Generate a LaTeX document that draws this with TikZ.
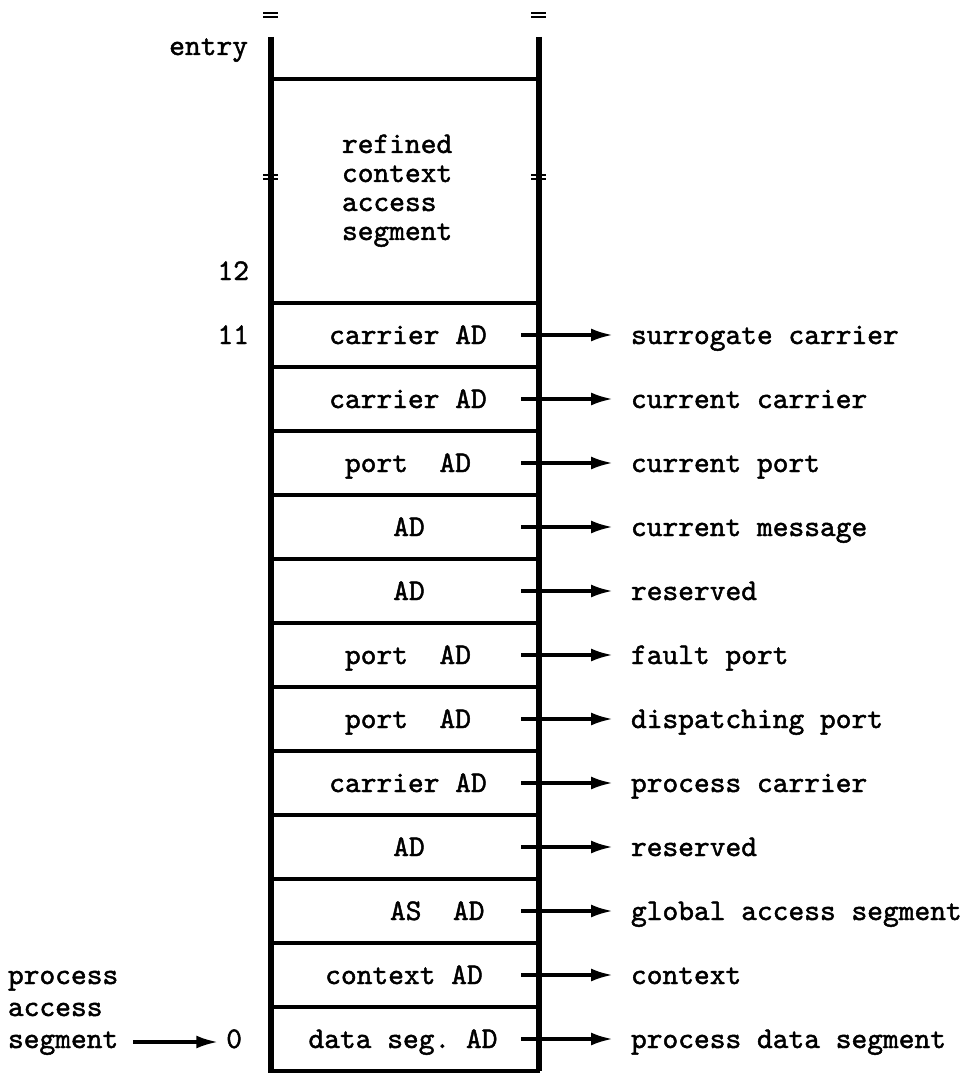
\documentclass[tikz,border=0pt]{standalone}
\usepackage{fontspec}
\newfontfamily\tw{lmmono10-regular.otf}[FakeBold=1.5]
\usetikzlibrary{arrows.meta}
\begin{document}
\begin{tikzpicture}[x=1pt,y=-1pt,
  every node/.style={font=\tw\fontsize{30}{34}\selectfont, inner sep=0pt, outer sep=0pt},
  cellbox/.style={draw, line width=4pt, minimum width=268pt, minimum height=64pt, anchor=north west},
  txt/.style={anchor=base},
  txtw/.style={anchor=base west},
  txte/.style={anchor=base east},
  ptr/.style={line width=3.5pt, -{Latex[length=22pt,width=13pt]}, shorten >=18pt},
  lptr/.style={line width=3.5pt, -{Latex[length=22pt,width=13pt]}, shorten >=8pt},
  vline/.style={line width=5.5pt},
  tick/.style={line width=2pt},
]
\useasboundingbox (0,0) rectangle (961,1075);

% refined context access segment box
\node[cellbox, minimum height=224pt] (r) at (270,79) {};
\node[txtw] (r1) at (342,153) {refined};
\node[txtw] (r2) at (342,182) {context};
\node[txtw] (r3) at (342,211) {access};
\node[txtw] (r4) at (342,240) {segment};

% cells
\node[cellbox] (c11) at (270,303) {};
\node[cellbox] (c10) at (270,367) {};
\node[cellbox] (c9) at (270,431) {};
\node[cellbox] (c8) at (270,495) {};
\node[cellbox] (c7) at (270,559) {};
\node[cellbox] (c6) at (270,623) {};
\node[cellbox] (c5) at (270,687) {};
\node[cellbox] (c4) at (270,751) {};
\node[cellbox] (c3) at (270,815) {};
\node[cellbox] (c2) at (270,879) {};
\node[cellbox] (c1) at (270,943) {};
\node[cellbox] (c0) at (270,1007) {};

% cell texts
\node[txt] (t11) at (408,344) {carrier AD};
\node[txt] (t10) at (408,408) {carrier AD};
\node[txt] (t9) at (408,472) {port\ \ AD};
\node[txt] (t8) at (409,536) {AD};
\node[txt] (t7) at (409,600) {AD};
\node[txt] (t6) at (408,664) {port\ \ AD};
\node[txt] (t5) at (408,728) {port\ \ AD};
\node[txt] (t4) at (408,792) {carrier AD};
\node[txt] (t3) at (409,856) {AD};
\node[txtw] (t2) at (390,920) {AS\ \ AD};
\node[txt] (t1) at (404,984) {context AD};
\node[txt] (t0) at (403,1048) {data seg.\ AD};

% vertical lines
\coordinate (tl) at (271,37);
\coordinate (bl) at (271,1071);
\coordinate (tr) at (539,37);
\coordinate (br) at (539,1071);
\draw[vline] (tl) -- (bl);
\draw[vline] (tr) -- (br);

% top continuation marks
\draw[tick] (263,13) -- (278,13) (263,17) -- (278,17);
\draw[tick] (531,13) -- (546,13) (531,17) -- (546,17);
% break marks
\draw[tick] (263,175) -- (278,175) (263,179) -- (278,179);
\draw[tick] (531,175) -- (546,175) (531,179) -- (546,179);

% left labels
\node[txte] (entry) at (248,55) {entry};
\node[txte] (n12) at (249,280) {12};
\node[txte] (n11) at (249,344) {11};
\node[txte] (n0) at (242,1048) {0};
\node[txtw] (p1) at (8,984) {process};
\node[txtw] (p2) at (8,1016) {access};
\node[txtw] (p3) at (8,1048) {segment};
\draw[lptr] ([shift={(15,-6)}]p3.base east) -- ([shift={(0,-6)}]n0.base west);

% right labels
\node[txtw] (l11) at (631,344) {surrogate carrier};
\node[txtw] (l10) at (631,408) {current carrier};
\node[txtw] (l9) at (631,472) {current port};
\node[txtw] (l8) at (631,536) {current message};
\node[txtw] (l7) at (631,600) {reserved};
\node[txtw] (l6) at (631,664) {fault port};
\node[txtw] (l5) at (631,728) {dispatching port};
\node[txtw] (l4) at (631,792) {process carrier};
\node[txtw] (l3) at (631,856) {reserved};
\node[txtw] (l2) at (631,920) {global access segment};
\node[txtw] (l1) at (631,984) {context};
\node[txtw] (l0) at (631,1048) {process data segment};

% pointers
\foreach \k in {11,10,9,8,7,6,5,4,3,2,1,0}{
  \draw[ptr] ([xshift=-17pt]c\k.east) -- (c\k.east -| l\k.west);
}
\end{tikzpicture}
\end{document}
